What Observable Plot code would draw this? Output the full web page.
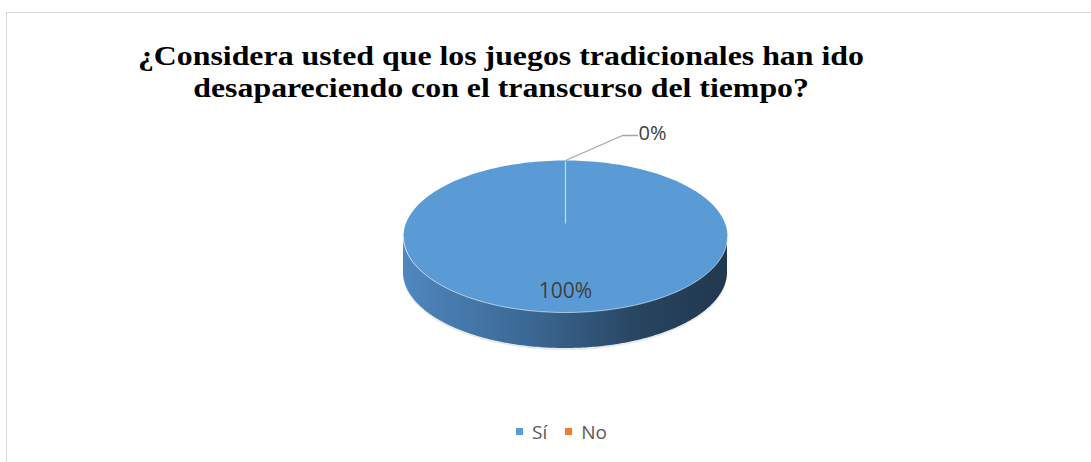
<!DOCTYPE html>
<html>
<head>
<meta charset="utf-8">
<script src="https://cdn.jsdelivr.net/npm/d3@7"></script>
<script src="https://cdn.jsdelivr.net/npm/@observablehq/plot@0.6"></script>
<style>
  html, body { margin: 0; padding: 0; background: #fff; }
  #wrap { position: relative; width: 1091px; height: 462px; overflow: hidden; }
  #frame { position: absolute; left: 6px; top: 12px; width: 1100px; height: 470px; border: 1px solid #d9d9d9; box-sizing: border-box; }
  #title { position: absolute; left: 0; width: 1002px; top: 40px; text-align: center;
    font-family: "Liberation Serif", "Times New Roman", Times, "DejaVu Serif", serif; font-weight: bold; font-size: 27px; line-height: 32px; color: #000; }
  #title .ln { display: block; }
  #title .ln span { display: inline-block; white-space: nowrap; transform-origin: 50% 50%; }
  #legend { position: absolute; left: 0; width: 1091px; top: 419px; text-align: center;
    font-family: "Open Sans", sans-serif; font-size: 19px; color: #595959; padding-left: 32px; box-sizing: border-box; }
  #legend span.item { display: inline-block; margin: 0 9px; }
  #legend span.sw { display: inline-block; width: 7px; height: 7px; margin-right: 9px; vertical-align: middle; position: relative; top: -2px; }
  #chart { position: absolute; left: 0; top: 0; }
</style>
</head>
<body>
<div id="wrap">
  <div id="frame"></div>
  <div id="chart"></div>
  <div id="title"></div>
  <div id="legend"></div>
</div>
<script>
// ---- data ----
const titleLines = ["¿Considera usted que los juegos tradicionales han ido", "desapareciendo con el transcurso del tiempo?"];
const categories = ["Sí", "No"];
const values = [100, 0];
const palette = ["#5B9BD5", "#ED7D31"];

// ---- layout ----
const W = 1091, H = 462;
const cx = 565, cy = 236, rx = 162, ry = 76, depth = 36;
const titleLine1Width = 726;

const total = d3.sum(values);
const arcs = d3.pie().sort(null).value(d => d.value)(categories.map((c, i) => ({cat: c, value: values[i], color: palette[i]})));

const px = a => cx + rx * Math.sin(a);
const py = a => cy - ry * Math.cos(a);

// top slice polygons
const topPts = [];
arcs.forEach(a => {
  if (a.endAngle - a.startAngle <= 0) return;
  const full = a.endAngle - a.startAngle >= 2 * Math.PI - 1e-9;
  if (!full) topPts.push({cat: a.data.cat, color: a.data.color, x: cx, y: cy});
  const n = 240;
  for (let k = 0; k <= n; k++) {
    const t = a.startAngle + (a.endAngle - a.startAngle) * k / n;
    topPts.push({cat: a.data.cat, color: a.data.color, x: px(t), y: py(t)});
  }
});

// side (front half) of each slice
const sidePts = [];
arcs.forEach(a => {
  const s = Math.max(a.startAngle, Math.PI / 2), e = Math.min(a.endAngle, 3 * Math.PI / 2);
  if (e <= s) return;
  const n = 200;
  for (let k = 0; k <= n; k++) {
    const t = s + (e - s) * k / n;
    sidePts.push({cat: a.data.cat, x: px(t), y: py(t), y2: py(t) + depth});
  }
});

// slice boundary lines (center to start angle)
const edges = arcs.map(a => ({cat: a.data.cat, x1: cx, y1: cy - 13, x2: px(a.startAngle), y2: py(a.startAngle)}))
  .filter((d, i, arr) => arr.findIndex(o => Math.abs(o.x2 - d.x2) < 0.5 && Math.abs(o.y2 - d.y2) < 0.5) === i);

// labels
const labelsIn = [], leaders = [], labelsOut = [];
arcs.forEach(a => {
  const pct = Math.round(a.data.value / total * 100) + "%";
  const mid = (a.startAngle + a.endAngle) / 2;
  if (a.data.value / total >= 0.05) {
    labelsIn.push({text: pct, x: cx + 0.0 * rx * Math.sin(mid), y: cy - 0.72 * ry * Math.cos(mid)});
  } else {
    const x0 = px(mid), y0 = py(mid);
    leaders.push({x: x0, y: y0}, {x: x0 + 57, y: y0 - 25}, {x: x0 + 72, y: y0 - 25});
    labelsOut.push({text: pct, x: x0 + 73, y: y0 - 27});
  }
});

const frontEdge = d3.range(0, 201).map(k => { const t = Math.PI / 2 + Math.PI * k / 200; return {x: px(t), y: py(t)}; });

const chart = Plot.plot({
  width: W, height: H,
  margin: 0,
  x: {domain: [0, W], range: [0, W], axis: null},
  y: {domain: [0, H], range: [0, H], axis: null},
  style: {background: "transparent", overflow: "visible"},
  marks: [
    () => {
      const defs = d3.create("svg:defs");
      const g = defs.append("linearGradient").attr("id", "sideGrad").attr("x1", "0").attr("x2", "1").attr("y1", "0").attr("y2", "0");
      g.append("stop").attr("offset", "0%").attr("stop-color", "#4f87bf");
      g.append("stop").attr("offset", "40%").attr("stop-color", "#3a6792");
      g.append("stop").attr("offset", "75%").attr("stop-color", "#27435e");
      g.append("stop").attr("offset", "100%").attr("stop-color", "#21384f");
      return defs.node();
    },
    Plot.area(sidePts, {x1: "x", y1: "y", y2: d => d.y2 + 2, fill: "#c9d3dc", fillOpacity: 0.5, z: "cat"}),
    Plot.area(sidePts, {x1: "x", y1: "y", y2: "y2", fill: "url(#sideGrad)", z: "cat"}),
    Plot.line(topPts, {x: "x", y: "y", z: "cat", fill: "color", stroke: "none"}),
    Plot.line(frontEdge, {x: "x", y: "y", stroke: "#ffffff", strokeOpacity: 0.55, strokeWidth: 1}),
    Plot.link(edges, {x1: "x1", y1: "y1", x2: "x2", y2: "y2", stroke: "#c4d8ee", strokeWidth: 1.2}),
    Plot.line(leaders, {x: "x", y: "y", stroke: "#a6a6a6", strokeWidth: 1.3}),
    Plot.text(labelsIn, {x: "x", y: "y", text: "text", fill: "#404040", fontSize: 21, fontFamily: "Open Sans", textAnchor: "middle"}),
    Plot.text(labelsOut, {x: "x", y: "y", text: "text", fill: "#404040", fontSize: 20, fontFamily: "Open Sans", textAnchor: "start"})
  ]
});
document.getElementById("chart").appendChild(chart);

const titleEl = document.getElementById("title");
titleEl.innerHTML = titleLines.map(t => `<div class="ln"><span>${t}</span></div>`).join("");
const spans = titleEl.querySelectorAll(".ln span");
const w0 = spans[0].getBoundingClientRect().width;
const sx = w0 > 0 ? titleLine1Width / w0 : 1;
spans.forEach(s => s.style.transform = `scaleX(${sx})`);

document.getElementById("legend").innerHTML = categories.map((c, i) =>
  `<span class="item"><span class="sw" style="background:${palette[i]}"></span>${c}</span>`).join("");
</script>
</body>
</html>
